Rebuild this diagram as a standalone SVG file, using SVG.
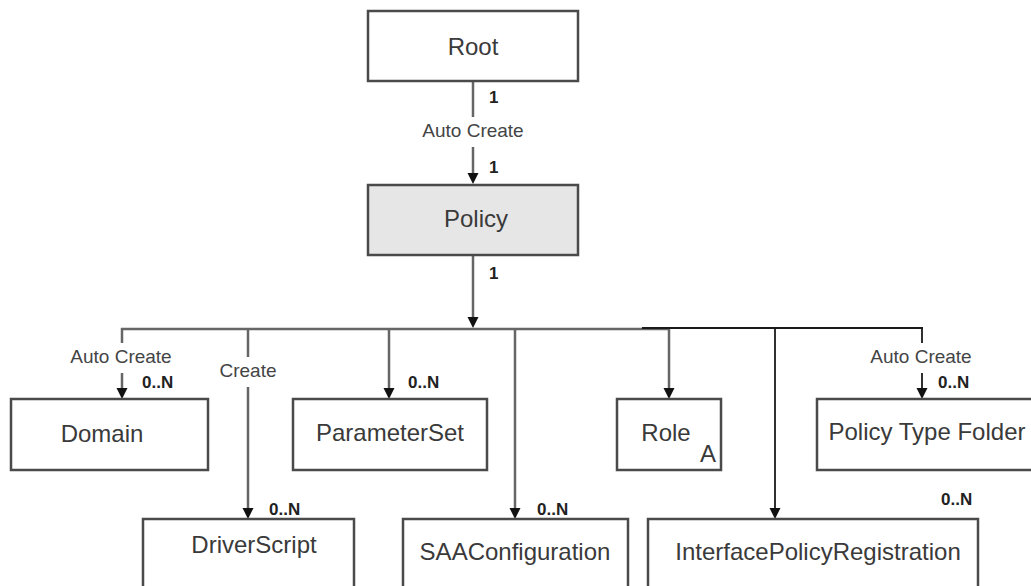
<svg xmlns="http://www.w3.org/2000/svg" width="1031" height="586" viewBox="0 0 1031 586">
  <style>
    .box { fill: #ffffff; stroke: #4a4a4a; stroke-width: 2.5; }
    .box.core { fill: #e6e6e6; }
    .label { font-family: "Liberation Sans", Arial, sans-serif; font-size: 24px; fill: #3a3a3a; text-anchor: middle; }
    .edge { fill: none; stroke: #666666; stroke-width: 2.5; }
    .edge.dark { stroke: #1a1a1a; stroke-width: 1.8; }
    .rel { font-family: "Liberation Sans", Arial, sans-serif; font-size: 19px; fill: #444444; text-anchor: middle; }
    .card { font-family: "Liberation Sans", Arial, sans-serif; font-size: 17px; font-weight: bold; fill: #222222; }
  </style>
  <defs>
    <marker id="arrow" markerUnits="userSpaceOnUse" markerWidth="12" markerHeight="12" refX="7" refY="5.5" orient="auto">
      <path d="M0,0 L11,5.5 L0,11 z" fill="#111111"/>
    </marker>
  </defs>

  <rect width="1031" height="586" fill="#ffffff"/>

  <!-- connectors -->
  <g id="connectors">
    <!-- Root to Policy -->
    <line class="edge" x1="473" y1="81" x2="473" y2="117"/>
    <line class="edge" x1="473" y1="147" x2="473" y2="180" marker-end="url(#arrow)"/>
    <text class="card" x="489" y="103">1</text>
    <text class="rel" x="473" y="137">Auto Create</text>
    <text class="card" x="489" y="173">1</text>

    <!-- Policy to bus -->
    <line class="edge" x1="473" y1="255" x2="473" y2="324" marker-end="url(#arrow)"/>
    <text class="card" x="489" y="279">1</text>

    <!-- horizontal bus -->
    <line class="edge" x1="121" y1="329" x2="669" y2="329"/>
    <line class="edge dark" x1="642" y1="328" x2="923" y2="328"/>

    <!-- Domain -->
    <line class="edge" x1="122" y1="328" x2="122" y2="343"/>
    <text class="rel" x="121" y="363">Auto Create</text>
    <line class="edge" x1="122" y1="373" x2="122" y2="395" marker-end="url(#arrow)"/>
    <text class="card" x="142" y="388">0..N</text>

    <!-- DriverScript -->
    <line class="edge" x1="248" y1="329" x2="248" y2="357"/>
    <text class="rel" x="248" y="377">Create</text>
    <line class="edge" x1="248" y1="387" x2="248" y2="515" marker-end="url(#arrow)"/>
    <text class="card" x="269" y="515">0..N</text>

    <!-- ParameterSet -->
    <line class="edge" x1="389" y1="329" x2="389" y2="395" marker-end="url(#arrow)"/>
    <text class="card" x="408" y="388">0..N</text>

    <!-- SAAConfiguration -->
    <line class="edge" x1="515" y1="329" x2="515" y2="515" marker-end="url(#arrow)"/>
    <text class="card" x="537" y="515">0..N</text>

    <!-- Role -->
    <line class="edge" x1="669" y1="329" x2="669" y2="395" marker-end="url(#arrow)"/>

    <!-- InterfacePolicyRegistration -->
    <line class="edge dark" x1="775" y1="328" x2="775" y2="515" marker-end="url(#arrow)"/>
    <text class="card" x="941" y="505">0..N</text>

    <!-- Policy Type Folder -->
    <line class="edge dark" x1="922" y1="328" x2="922" y2="343"/>
    <text class="rel" x="921" y="363">Auto Create</text>
    <line class="edge dark" x1="922" y1="373" x2="922" y2="395" marker-end="url(#arrow)"/>
    <text class="card" x="938" y="388">0..N</text>
  </g>

  <!-- nodes -->
  <g id="root">
    <rect class="box" x="368" y="11" width="210" height="70"/>
    <text class="label" x="473" y="55">Root</text>
  </g>
  <g id="policy">
    <rect class="box core" x="368" y="185" width="210" height="70"/>
    <text class="label" x="476" y="227">Policy</text>
  </g>
  <g id="domain">
    <rect class="box" x="11" y="399" width="197" height="71"/>
    <text class="label" x="102" y="442">Domain</text>
  </g>
  <g id="parameterset">
    <rect class="box" x="293" y="399" width="194" height="71"/>
    <text class="label" x="390" y="441">ParameterSet</text>
  </g>
  <g id="role">
    <rect class="box" x="617" y="399" width="104" height="71"/>
    <text class="label" x="666" y="441">Role</text>
    <text class="label" x="708" y="462">A</text>
  </g>
  <g id="policy-type-folder">
    <rect class="box" x="817" y="399" width="230" height="71"/>
    <text class="label" x="927" y="440">Policy Type Folder</text>
  </g>
  <g id="driverscript">
    <rect class="box" x="143" y="519" width="211" height="90"/>
    <text class="label" x="254" y="553">DriverScript</text>
  </g>
  <g id="saaconfiguration">
    <rect class="box" x="403" y="519" width="225" height="90"/>
    <text class="label" x="515" y="560">SAAConfiguration</text>
  </g>
  <g id="interfacepolicyregistration">
    <rect class="box" x="648" y="519" width="330" height="90"/>
    <text class="label" x="818" y="560">InterfacePolicyRegistration</text>
  </g>
</svg>
